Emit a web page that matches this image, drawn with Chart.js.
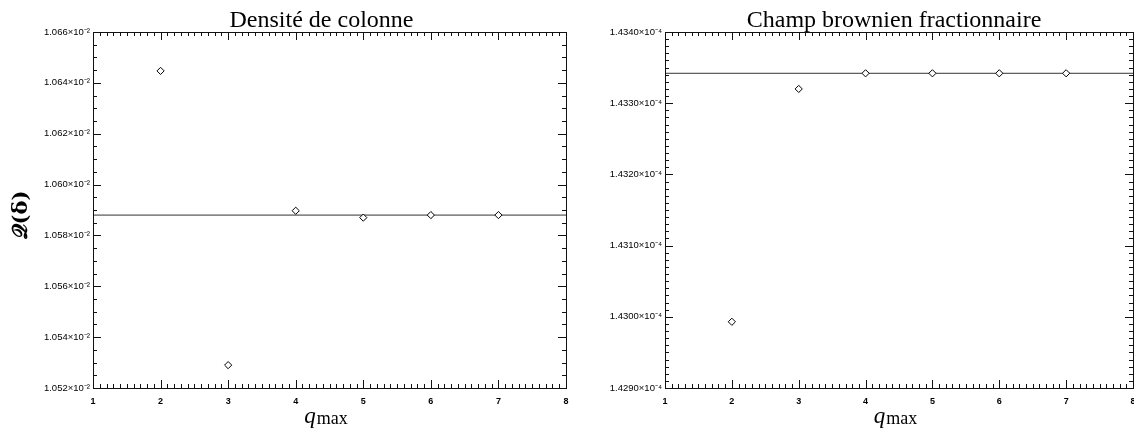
<!DOCTYPE html>
<html><head><meta charset="utf-8">
<script src="https://cdn.jsdelivr.net/npm/chart.js@4.4.1/dist/chart.umd.min.js"></script>
<style>
html,body{margin:0;padding:0;background:#fff;overflow:hidden;width:1134px;height:435px;}
canvas{position:absolute;top:0;}
#c1{left:0;} #c2{left:567px;}
</style></head><body>
<canvas id="c1" width="571" height="435"></canvas>
<canvas id="c2" width="571" height="435"></canvas>
<script>
// ---- data ----
const qmax = [2, 3, 4, 5, 6, 7];
const xTicks = [1, 2, 3, 4, 5, 6, 7, 8];
const densiteValues = [0.0106447, 0.0105290, 0.0105897, 0.0105870, 0.0105880, 0.0105880];
const densiteRef = 0.0105880;
const densiteTicks = [0.01052, 0.01054, 0.01056, 0.01058, 0.01060, 0.01062, 0.01064, 0.01066];
const champValues = [1.42993e-4, 1.43320e-4, 1.43342e-4, 1.43342e-4, 1.43342e-4, 1.43342e-4];
const champRef = 1.43342e-4;
const champTicks = [1.4290e-4, 1.4300e-4, 1.4310e-4, 1.4320e-4, 1.4330e-4, 1.4340e-4];
const titles = ["Densité de colonne", "Champ brownien fractionnaire"];

function boxTicks(minorX, minorY){
  return {
    id:'boxTicks',
    afterDatasetsDraw(chart){
      const {ctx, chartArea:a, scales} = chart;
      const xs = scales.x, ys = scales.y;
      ctx.save();
      ctx.strokeStyle = '#111'; ctx.lineWidth = 1;
      ctx.strokeRect(Math.round(a.left)+0.5, Math.round(a.top)+0.5, Math.round(a.right-a.left), Math.round(a.bottom-a.top));
      ctx.beginPath();
      const xmin = xs.min, xmax = xs.max;
      const nX = Math.round((xmax - xmin)/minorX);
      for (let i=0;i<=nX;i++){
        const v = xmin + i*minorX;
        const major = Math.abs(v - Math.round(v)) < 1e-9;
        const L = major ? 8 : 4;
        const px = Math.round(xs.getPixelForValue(v))+0.5;
        ctx.moveTo(px, a.bottom); ctx.lineTo(px, a.bottom - L);
        ctx.moveTo(px, a.top); ctx.lineTo(px, a.top + L);
      }
      const ticks = chart.options.plugins.boxTicks.majorY;
      const ymin = ys.min, ymax = ys.max;
      const nY = Math.round((ymax - ymin)/minorY);
      for (let i=0;i<=nY;i++){
        const v = ymin + i*minorY;
        const major = ticks.some(t => Math.abs(t - v) < minorY*0.01);
        const L = major ? 8 : 4;
        const py = Math.round(ys.getPixelForValue(v))+0.5;
        ctx.moveTo(a.left, py); ctx.lineTo(a.left + L, py);
        ctx.moveTo(a.right, py); ctx.lineTo(a.right - L, py);
      }
      ctx.stroke();
      // title
      const t = chart.options.plugins.boxTicks;
      ctx.fillStyle = '#000';
      ctx.font = '24px "Liberation Serif", "DejaVu Serif", serif';
      ctx.textAlign = 'center'; ctx.textBaseline = 'alphabetic';
      ctx.fillText(t.title, (a.left + a.right)/2 + t.titleShift, 27);
      // x title q_max
      const cx = (a.left + a.right)/2 + t.xShift;
      ctx.font = 'italic 23px "Liberation Serif", "DejaVu Serif", serif';
      const qw = ctx.measureText('q').width;
      ctx.font = '18px "Liberation Serif", "DejaVu Serif", serif';
      const mw = ctx.measureText('max').width;
      const x0 = cx - (qw + mw)/2;
      ctx.textAlign = 'left';
      ctx.font = 'italic 23px "Liberation Serif", "DejaVu Serif", serif';
      ctx.fillText('q', x0, 423);
      ctx.font = '18px "Liberation Serif", "DejaVu Serif", serif';
      ctx.fillText('max', x0 + qw + 1, 424);
      if (t.yLabel){
        ctx.save();
        ctx.translate(27, (a.top + a.bottom)/2 + 5);
        ctx.rotate(-Math.PI/2);
        ctx.textAlign = 'center';
        ctx.font = '600 21px "DejaVu Serif", "Liberation Serif", serif';
        ctx.fillText(t.yLabel, 0, 0);
        ctx.restore();
      }
      ctx.restore();
    }
  };
}

function sup(n){ const m={'-':'⁻','0':'⁰','1':'¹','2':'²','3':'³','4':'⁴','5':'⁵','6':'⁶','7':'⁷','8':'⁸','9':'⁹'}; return String(n).split('').map(c=>m[c]).join(''); }

function makeChart(id, values, ref, yTicks, exp, digits, leftW, rightPad, minorY, title, titleShift, xShift, yLabel){
  const scale = Math.pow(10, exp);
  return new Chart(document.getElementById(id), {
    type: 'scatter',
    data: { datasets: [
      { type:'line', data: [{x:xTicks[0], y:ref}, {x:xTicks[xTicks.length-1], y:ref}],
        borderColor:'#333', borderWidth:1, pointRadius:0, fill:false, order:2 },
      { data: qmax.map((q,i)=>({x:q, y:values[i]})),
        pointStyle:'rectRot', pointRadius:3.6, pointBorderWidth:1,
        pointBackgroundColor:'#fff', pointBorderColor:'#000', order:1 }
    ]},
    options: {
      responsive:false, animation:false, devicePixelRatio:1,
      layout:{ padding:{ top:32, right:rightPad, bottom:0, left:0 } },
      plugins:{ legend:{display:false}, tooltip:{enabled:false},
        boxTicks:{ majorY:yTicks, title:title, titleShift:titleShift, xShift:xShift, yLabel:yLabel } },
      scales:{
        x:{ type:'linear', min:xTicks[0], max:xTicks[xTicks.length-1],
          grid:{display:false, drawTicks:false}, border:{display:false},
          afterBuildTicks: s => { s.ticks = xTicks.map(v=>({value:v})); },
          afterFit: s => { s.height = 47; s.paddingLeft = 0; s.paddingRight = 0; },
          ticks:{ padding:8, color:'#000', font:{family:'"Liberation Sans", Arial, sans-serif', size:9, weight:'bold'},
            callback: v => String(v), maxRotation:0, autoSkip:false } },
        y:{ type:'linear', min:yTicks[0], max:yTicks[yTicks.length-1],
          grid:{display:false, drawTicks:false}, border:{display:false},
          afterBuildTicks: s => { s.ticks = yTicks.map(v=>({value:v})); },
          afterFit: s => { s.width = leftW; s.paddingTop = 0; s.paddingBottom = 0; },
          ticks:{ padding:3, color:'#000', font:{family:'"Liberation Sans", Arial, sans-serif', size:9.5},
            callback: v => (v/scale).toFixed(digits) + '×10' + sup(exp), autoSkip:false } }
      }
    },
    plugins:[ boxTicks(0.1, minorY) ]
  });
}

makeChart('c1', densiteValues, densiteRef, densiteTicks, -2, 3, 93, 5, 5e-6, titles[0], -8, -4, '𝒬(δ)');
makeChart('c2', champValues, champRef, champTicks, -4, 4, 98, 5, 1e-8, titles[1], -5, -4, null);
</script>
</body></html>
